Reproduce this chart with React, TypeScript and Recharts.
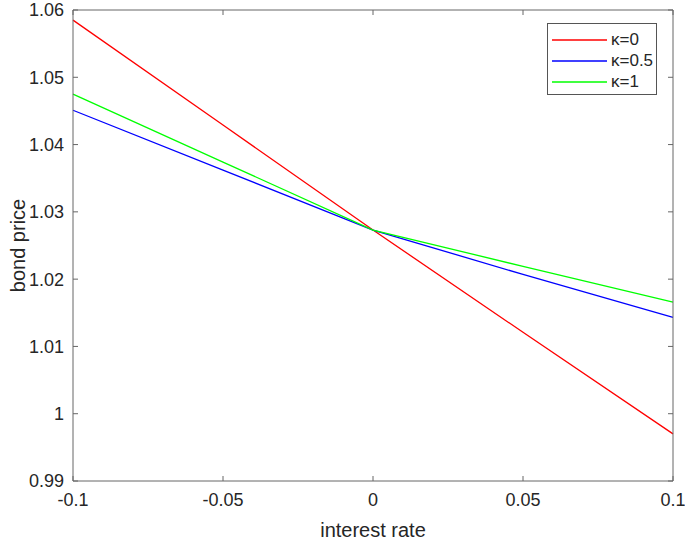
import { LineChart, Line, XAxis, YAxis, Legend, Label } from 'recharts';

const rates = [-0.1, -0.05, 0, 0.05, 0.1];
const kappa0 = [1.0585, 1.0429, 1.0273, 1.0121, 0.997];
const kappa05 = [1.0451, 1.0362, 1.0273, 1.0207, 1.0143];
const kappa1 = [1.0475, 1.0374, 1.0273, 1.0219, 1.0166];

const xTicks = [-0.1, -0.05, 0, 0.05, 0.1];
const yTicks = [0.99, 1, 1.01, 1.02, 1.03, 1.04, 1.05, 1.06];

const series = [
  { key: 'k0', name: 'κ=0', color: '#ff0000' },
  { key: 'k05', name: 'κ=0.5', color: '#0000ff' },
  { key: 'k1', name: 'κ=1', color: '#00ff00' },
];

const data = rates.map((r, i) => ({
  rate: r,
  k0: kappa0[i],
  k05: kappa05[i],
  k1: kappa1[i],
}));

const FONT = '"Liberation Sans", Arial, Helvetica, sans-serif';
const TEXT = '#262626';
const AXIS = '#666666';
const TICK_LEN = 5;
const Y_GAP = 9;
const X_GAP = 12;

// ticks drawn inward like MATLAB, plus the label
const LeftTick = (props: any) => {
  const { x, y, payload } = props;
  return (
    <g>
      <line x1={x + Y_GAP} x2={x + Y_GAP + TICK_LEN} y1={y} y2={y} stroke={AXIS} />
      <text
        x={x}
        y={y}
        dy="0.355em"
        textAnchor="end"
        fill={TEXT}
        fontSize={18}
        fontFamily={FONT}
      >
        {String(payload.value)}
      </text>
    </g>
  );
};

const BottomTick = (props: any) => {
  const { x, y, payload } = props;
  return (
    <g>
      <line x1={x} x2={x} y1={y - X_GAP} y2={y - X_GAP - TICK_LEN} stroke={AXIS} />
      <text
        x={x}
        y={y}
        dy="0.71em"
        textAnchor="middle"
        fill={TEXT}
        fontSize={18}
        fontFamily={FONT}
      >
        {String(payload.value)}
      </text>
    </g>
  );
};

const TopTick = (props: any) => {
  const { x, y } = props;
  return <line x1={x} x2={x} y1={y} y2={y + TICK_LEN} stroke={AXIS} />;
};

const RightTick = (props: any) => {
  const { x, y } = props;
  return <line x1={x} x2={x - TICK_LEN} y1={y} y2={y} stroke={AXIS} />;
};

// MATLAB-style boxed legend in the top-right corner
const BoxLegend = () => (
  <div
    style={{
      border: '1px solid #555',
      background: '#fff',
      width: 110,
      height: 72,
      boxSizing: 'border-box',
      padding: '5px 0 0 4px',
      fontFamily: FONT,
      fontSize: 17,
      color: TEXT,
    }}
  >
    {series.map((s) => (
      <div
        key={s.key}
        style={{ display: 'flex', alignItems: 'center', height: 21 }}
      >
        <svg width={55} height={4} style={{ marginRight: 4 }}>
          <line x1={0} y1={2} x2={55} y2={2} stroke={s.color} strokeWidth={1.3} />
        </svg>
        <span>{s.name}</span>
      </div>
    ))}
  </div>
);

export default function App() {
  return (
    <div
      style={{
        position: 'absolute',
        left: 0,
        top: 0,
        width: 685,
        height: 541,
        background: '#fff',
      }}
    >
      <LineChart
        width={685}
        height={541}
        data={data}
        margin={{ top: 9, right: 11, bottom: 0, left: 0 }}
      >
        <XAxis
          dataKey="rate"
          type="number"
          domain={[-0.1, 0.1]}
          ticks={xTicks}
          height={60}
          tickSize={0}
          tickMargin={X_GAP}
          tickLine={false}
          stroke={AXIS}
          tick={<BottomTick />}
          interval={0}
        >
          <Label
            value="interest rate"
            position="insideBottom"
            offset={4}
            style={{ fill: TEXT, fontSize: 20, fontFamily: FONT }}
          />
        </XAxis>
        <XAxis
          xAxisId="top"
          dataKey="rate"
          type="number"
          orientation="top"
          domain={[-0.1, 0.1]}
          ticks={xTicks}
          height={1}
          tickSize={0}
          tickMargin={0}
          tickLine={false}
          stroke={AXIS}
          tick={<TopTick />}
          interval={0}
        />
        <YAxis
          type="number"
          domain={[0.99, 1.06]}
          ticks={yTicks}
          width={73}
          tickSize={0}
          tickMargin={Y_GAP}
          tickLine={false}
          stroke={AXIS}
          tick={<LeftTick />}
          interval={0}
        >
          <Label
            value="bond price"
            angle={-90}
            position="insideLeft"
            offset={18}
            style={{
              textAnchor: 'middle',
              fill: TEXT,
              fontSize: 20,
              fontFamily: FONT,
            }}
          />
        </YAxis>
        <YAxis
          yAxisId="right"
          type="number"
          orientation="right"
          domain={[0.99, 1.06]}
          ticks={yTicks}
          width={1}
          tickSize={0}
          tickMargin={0}
          tickLine={false}
          stroke={AXIS}
          tick={<RightTick />}
          interval={0}
        />
        <Legend
          layout="horizontal"
          verticalAlign="middle"
          align="center"
          wrapperStyle={{ left: 547, top: 23, width: 110, height: 72 }}
          content={() => <BoxLegend />}
        />
        {/* invisible copy so the top/right box axes are bound to a series */}
        <Line
          xAxisId="top"
          yAxisId="right"
          type="linear"
          dataKey="k0"
          stroke="none"
          dot={false}
          legendType="none"
          activeDot={false}
          isAnimationActive={false}
        />
        {series.map((s) => (
          <Line
            key={s.key}
            type="linear"
            dataKey={s.key}
            name={s.name}
            stroke={s.color}
            strokeWidth={1.3}
            dot={false}
            isAnimationActive={false}
          />
        ))}
      </LineChart>
    </div>
  );
}
